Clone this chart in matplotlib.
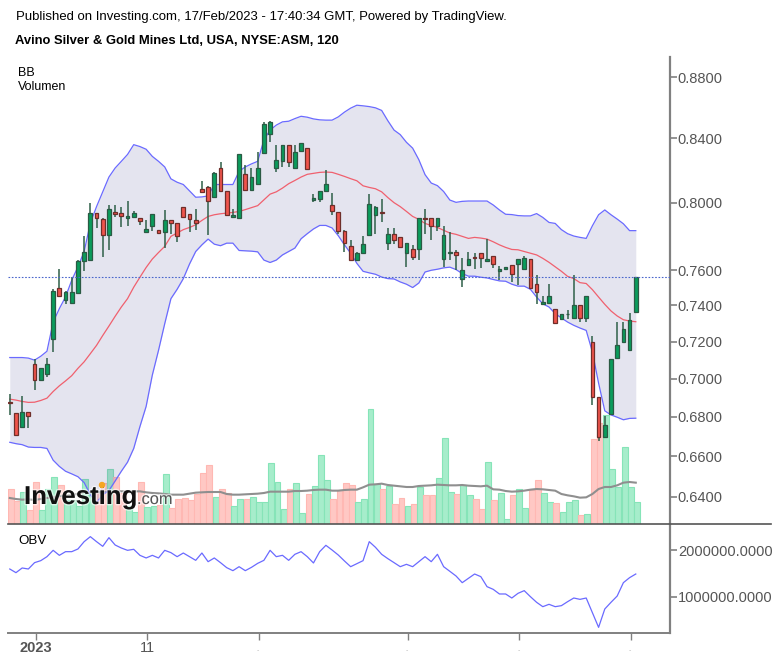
"""
plot.py - Avino Silver & Gold 120 min chart with BB, volume and OBV panes
"""
import matplotlib
matplotlib.use("Agg")
import matplotlib.pyplot as plt
import matplotlib.patheffects as pe
from matplotlib.patches import Ellipse
from matplotlib.ticker import FixedLocator, NullLocator
import numpy as np

plt.rcParams["font.family"] = ["Liberation Sans", "DejaVu Sans"]

opens = [
    .6878, .6819, .6750, .6826, .7076, .6993, .7025, .7213, .7501, .7429,
    .7413, .7471, .7651, .7659, .7939, .7901, .7806, .7945, .7937, .7905,
    .7911, .7905, .7822, .7857, .7834, .7822, .7893, .7877, .7974, .7931,
    .7893, .8083, .8097, .8033, .8213, .8072, .7911, .7907, .8174, .8076,
    .8114, .8307, .8430, .8216, .8255, .8360, .8216, .8319, .8338, .8014,
    .8025, .8069, .7988, .7945, .7832, .7743, .7659, .7703, .7808, .7927,
    .7945, .7756, .7812, .7796, .7703, .7723, .7725, .7907, .7907, .7857,
    .7667, .7699, .7707, .7552, .7630, .7677, .7699, .7651, .7683, .7598,
    .7608, .7632, .7638, .7608, .7663, .7524, .7406, .7413, .7382, .7324,
    .7350, .7331, .7404, .7331, .7200, .6903, .6699, .6816, .7111, .7200,
    .7152, .7363,
]
closes = [
    .6874, .6708, .6826, .6803, .6993, .7055, .7076, .7480, .7455, .7474,
    .7474, .7655, .7707, .7937, .7905, .7806, .7960, .7933, .7917, .7917,
    .7939, .7887, .7842, .7931, .7820, .7893, .7875, .7800, .7913, .7903,
    .7879, .8066, .8008, .8184, .8072, .7925, .7925, .8298, .8079, .8157,
    .8213, .8489, .8504, .8261, .8360, .8249, .8313, .8369, .8210, .8027,
    .8074, .8114, .7949, .7830, .7758, .7659, .7701, .7752, .7990, .7974,
    .7935, .7812, .7776, .7733, .7760, .7679, .7907, .7903, .7857, .7907,
    .7804, .7707, .7689, .7600, .7663, .7673, .7673, .7663, .7638, .7606,
    .7620, .7579, .7663, .7669, .7499, .7478, .7419, .7453, .7302, .7354,
    .7354, .7404, .7331, .7453, .6901, .6699, .6756, .7103, .7182, .7270,
    .7320, .7562,
]
highs = [
    .6920, .6819, .6906, .6826, .7106, .7055, .7108, .7495, .7610, .7480,
    .7560, .7660, .7798, .7996, .7939, .7909, .7984, .7984, .7976, .8012,
    .7947, .7905, .7893, .7931, .7834, .7953, .7893, .7877, .7974, .7931,
    .7963, .8130, .8103, .8186, .8253, .8072, .7963, .8298, .8232, .8213,
    .8312, .8506, .8510, .8358, .8360, .8360, .8360, .8369, .8338, .8052,
    .8074, .8199, .8058, .7945, .7838, .7774, .7705, .7798, .8050, .7980,
    .8021, .7848, .7848, .7796, .7760, .7747, .7907, .7963, .7907, .7907,
    .7857, .7826, .7717, .7669, .7709, .7699, .7699, .7782, .7683, .7626,
    .7620, .7632, .7663, .7685, .7663, .7571, .7453, .7524, .7382, .7354,
    .7372, .7572, .7404, .7453, .7230, .6903, .6805, .7103, .7307, .7307,
    .7359, .7562,
]
lows = [
    .6810, .6708, .6750, .6745, .6941, .6993, .7007, .7145, .7450, .7410,
    .7413, .7471, .7596, .7659, .7846, .7679, .7719, .7911, .7852, .7861,
    .7911, .7865, .7822, .7827, .7812, .7727, .7814, .7762, .7913, .7822,
    .7838, .8066, .7808, .8033, .8072, .7925, .7911, .7907, .8079, .8076,
    .8114, .8307, .8380, .8187, .8218, .8218, .8216, .8319, .8198, .8006,
    .8006, .8069, .7925, .7814, .7709, .7651, .7659, .7695, .7808, .7814,
    .7885, .7717, .7754, .7733, .7620, .7657, .7659, .7814, .7774, .7828,
    .7618, .7659, .7600, .7505, .7626, .7606, .7614, .7651, .7614, .7543,
    .7608, .7533, .7513, .7608, .7499, .7410, .7406, .7413, .7302, .7324,
    .7326, .7331, .7307, .7307, .6863, .6674, .6699, .6816, .7111, .7200,
    .7152, .7363,
]
bb_upper = [
    .7113, .7113, .7113, .7110, .7099, .7120, .7147, .7307, .7382, .7448,
    .7543, .7620, .7709, .7877, .7976, .8066, .8157, .8213, .8255, .8298,
    .8360, .8348, .8331, .8286, .8255, .8220, .8146, .8125, .8111, .8072,
    .8033, .8035, .8041, .8111, .8111, .8111, .8111, .8193, .8220, .8239,
    .8255, .8390, .8453, .8485, .8506, .8510, .8527, .8542, .8536, .8525,
    .8519, .8517, .8517, .8538, .8569, .8595, .8614, .8610, .8605, .8597,
    .8580, .8513, .8453, .8424, .8375, .8338, .8265, .8172, .8120, .8104,
    .8068, .8016, .8002, .8008, .8010, .8010, .8010, .8010, .7986, .7956,
    .7930, .7928, .7922, .7920, .7920, .7934, .7911, .7881, .7875, .7838,
    .7814, .7800, .7792, .7786, .7861, .7927, .7956, .7927, .7901, .7873,
    .7832, .7832,
]
bb_mid = [
    .6892, .6887, .6880, .6875, .6876, .6885, .6897, .6932, .6962, .6988,
    .7016, .7055, .7090, .7134, .7179, .7233, .7285, .7339, .7391, .7438,
    .7503, .7560, .7616, .7665, .7703, .7739, .7798, .7818, .7838, .7851,
    .7867, .7893, .7917, .7927, .7933, .7937, .7941, .7947, .7958, .7970,
    .7982, .8017, .8052, .8066, .8089, .8116, .8136, .8157, .8174, .8180,
    .8186, .8188, .8186, .8174, .8161, .8147, .8134, .8103, .8093, .8085,
    .8066, .8031, .8000, .7976, .7947, .7917, .7899, .7875, .7863, .7851,
    .7834, .7818, .7810, .7798, .7786, .7792, .7788, .7782, .7766, .7748,
    .7733, .7721, .7719, .7709, .7699, .7689, .7669, .7646, .7620, .7594,
    .7565, .7552, .7529, .7524, .7489, .7447, .7406, .7369, .7341, .7320,
    .7313, .7309,
]
bb_lower = [
    .6670, .6663, .6658, .6646, .6644, .6644, .6639, .6580, .6549, .6525,
    .6512, .6498, .6469, .6410, .6371, .6410, .6430, .6477, .6525, .6570,
    .6639, .6750, .6854, .7019, .7152, .7298, .7438, .7491, .7552, .7636,
    .7709, .7748, .7782, .7752, .7743, .7758, .7758, .7715, .7713, .7711,
    .7707, .7659, .7645, .7659, .7689, .7709, .7729, .7784, .7814, .7842,
    .7863, .7863, .7848, .7802, .7748, .7699, .7640, .7594, .7585, .7577,
    .7561, .7552, .7550, .7533, .7520, .7501, .7527, .7590, .7600, .7606,
    .7614, .7618, .7604, .7581, .7566, .7566, .7560, .7556, .7547, .7539,
    .7537, .7520, .7509, .7509, .7491, .7447, .7409, .7391, .7354, .7330,
    .7307, .7289, .7274, .7261, .7143, .6976, .6831, .6810, .6798, .6785,
    .6792, .6793,
]
volume = [
    105, 68, 97, 41, 127, 41, 105, 141, 116, 73,
    73, 55, 135, 93, 93, 123, 165, 141, 93, 53,
    37, 127, 51, 55, 57, 150, 48, 75, 79, 71,
    90, 153, 176, 81, 105, 93, 55, 75, 75, 81,
    67, 66, 183, 127, 45, 105, 123, 33, 90, 115,
    206, 131, 75, 101, 124, 116, 67, 75, 345, 121,
    105, 115, 61, 78, 55, 61, 112, 86, 86, 138,
    258, 97, 90, 116, 86, 75, 46, 187, 72, 93,
    16, 86, 105, 48, 101, 131, 93, 67, 63, 37,
    67, 71, 27, 31, 256, 303, 326, 165, 112, 232,
    112, 67,
]
volume_ma = [
    78, 75, 73, 74, 72, 75, 78, 80, 84, 84,
    88, 90, 96, 96, 96, 95, 97, 98, 98, 98,
    98, 98, 95, 93, 92, 90, 88, 88, 88, 91,
    94, 95, 96, 96, 96, 90, 88, 88, 89, 90,
    91, 93, 97, 97, 97, 97, 99, 99, 100, 102,
    103, 103, 100, 100, 102, 103, 103, 110, 118, 119,
    121, 117, 115, 113, 111, 111, 114, 115, 116, 118,
    117, 116, 116, 117, 115, 114, 113, 115, 104, 103,
    99, 97, 98, 100, 103, 105, 104, 102, 100, 90,
    86, 83, 79, 80, 90, 105, 111, 111, 116, 124,
    126, 124,
]
# OBV in thousands
obv = [
    1597, 1518, 1619, 1597, 1734, 1777, 1863, 2000, 1892, 1971,
    1971, 2029, 2187, 2295, 2187, 2086, 2273, 2115, 2050, 2000,
    2022, 1892, 1835, 1892, 1835, 2000, 1950, 1863, 1942, 1863,
    1784, 1942, 1755, 1835, 1734, 1626, 1561, 1647, 1561, 1633,
    1719, 1784, 2000, 1863, 1892, 1784, 1914, 1971, 1863, 1727,
    1971, 2108, 2007, 1899, 1770, 1647, 1712, 1777, 2187, 2065,
    1914, 1820, 1734, 1647, 1698, 1647, 1755, 1863, 1755, 1914,
    1647, 1547, 1446, 1302, 1396, 1489, 1432, 1216, 1158, 1058,
    1058, 971, 1072, 1130, 1000, 878, 784, 835, 784, 806,
    892, 971, 942, 971, 655, 338, 734, 878, 1014, 1302,
    1410, 1489,
]
price_ticks = [0.64, 0.66, 0.68, 0.70, 0.72, 0.74, 0.76, 0.80, 0.84, 0.88]
obv_ticks = [1000000, 2000000]
date_ticks = [4, 22, 40, 64, 82, 100]
date_labels = ["2023", "11", "", "", "", ""]

GREY = "#555555"
AXIS = "#808080"
W, H = 776, 662

opens, closes, highs, lows = map(np.array, (opens, closes, highs, lows))
x = np.arange(len(opens))
# candles sit a little left of the volume bars in the original
xc = x - 0.2
up = closes >= opens


def pane(top, bottom, **kw):
    return plt.gcf().add_axes([8 / W, 1 - bottom / H, 661.5 / W, (bottom - top) / H], **kw)


fig = plt.figure(figsize=(W / 100, H / 100), dpi=100)
ax_vol = pane(57, 524)
ax = pane(57, 524, sharex=ax_vol)
ax_obv = pane(524, 633, sharex=ax_vol)
ax.set_zorder(ax_vol.get_zorder() + 1)
ax.patch.set_visible(False)

# volume
ax_vol.bar(x, volume, width=0.96, color=np.where(up, "#a6edcb", "#ffc8c4"),
           edgecolor=np.where(up, "#86e4b8", "#ffb8b3"), linewidth=0.8)
ax_vol.plot(xc, volume_ma, color="#8f8f8f", lw=1.5)
ax_vol.set_ylim(0, 1401)

# bollinger bands
ax.fill_between(xc, bb_lower, bb_upper, color="#4a4a9a", alpha=0.15, lw=0)
ax.plot(xc, bb_upper, color="#6a6aff", lw=0.9)
ax.plot(xc, bb_lower, color="#6a6aff", lw=0.9)
ax.plot(xc, bb_mid, color="#f0606e", lw=0.9)

# candles
ax.vlines(xc, lows, highs, color="#2e5f48", lw=1.1, zorder=3)
ax.bar(xc, np.abs(closes - opens), bottom=np.minimum(opens, closes), width=0.6,
       color=np.where(up, "#0a9c5c", "#f0544c"),
       edgecolor=np.where(up, "#2b5a44", "#6e2e2a"), linewidth=0.9, zorder=4)
ax.axhline(closes[-1], color="#4a66cc", lw=0.8, ls=(0, (1.5, 1.5)), zorder=5)

ax.set_yscale("log")
ax.set_ylim(0.6269, 0.8935)
ax.set_xlim(-0.484, 106.24)
ax.yaxis.tick_right()
ax.yaxis.set_major_locator(FixedLocator(price_ticks))
ax.yaxis.set_minor_locator(NullLocator())
ax.set_yticklabels([f"{t:.4f}" for t in price_ticks])

# on balance volume
ax_obv.plot(xc, np.array(obv) * 1000, color="#6a6aff", lw=0.9)
ax_obv.set_ylim(216000, 2568000)
ax_obv.yaxis.tick_right()
ax_obv.set_yticks(obv_ticks)
ax_obv.set_yticklabels([f"{t:.4f}" for t in obv_ticks])
ax_obv.set_xticks(date_ticks)
ax_obv.set_xticklabels(date_labels)

for a in (ax_vol, ax, ax_obv):
    for side in ("left", "top", "bottom", "right"):
        a.spines[side].set_visible(False)
ax_vol.tick_params(left=False, bottom=False, labelleft=False, labelbottom=False)
ax.tick_params(bottom=False, labelbottom=False)
for a in (ax, ax_obv):
    a.spines["right"].set_visible(True)
    a.spines["right"].set_color(AXIS)
    a.spines["right"].set_linewidth(1.6)
    a.tick_params(axis="y", length=5, width=1.2, color=AXIS, labelsize=10.5,
                  labelcolor=GREY, pad=1)
ax_obv.spines["bottom"].set_visible(True)
ax_obv.spines["bottom"].set_color(AXIS)
ax_obv.spines["bottom"].set_linewidth(1.4)
ax_obv.tick_params(axis="x", length=5, width=1, color=AXIS, labelsize=10.5,
                   labelcolor=GREY, pad=1)
for lab, txt in zip(ax_obv.get_xticklabels(), date_labels):
    lab.set_fontweight("bold" if txt == "2023" else "normal")

# pane separator runs past the price scale
fig.add_artist(plt.Line2D([8 / W, 771 / W], [1 - 524 / H] * 2, color="#555555", lw=1.2))

# masked date labels leave only a speck in the original
for px in (258, 407, 519, 630):
    fig.text(px / W, 1 - 651 / H, "-", fontsize=5, color="#bbbbbb", ha="center", va="center")


def label(px, py, s, **kw):
    return fig.text(px / W, 1 - py / H, s, va="center", color="black", **kw)


label(16, 17, "Published on Investing.com, 17/Feb/2023 - 17:40:34 GMT, Powered by TradingView.",
      fontsize=9.42)
label(15, 41, "Avino Silver & Gold Mines Ltd, USA, NYSE:ASM, 120", fontsize=9.4, fontweight="bold")
label(18, 73, "BB", fontsize=9)
label(18, 87, "Volumen", fontsize=9)
label(18, 541, "OBV", fontsize=9.6)

# watermark
glow = [pe.withStroke(linewidth=2, foreground="white", alpha=0.6)]
fig.text(24 / W, 1 - 504 / H, "Investing", fontsize=18.6, fontweight="bold", color="#111111",
         va="baseline", zorder=10, path_effects=glow)
fig.text(137 / W, 1 - 504 / H, ".com", fontsize=11.8, color=GREY, va="baseline", zorder=10,
         path_effects=glow)
fig.add_artist(Ellipse((102 / W, 1 - 485 / H), 5 / W, 5 / H, color="#f5a623", zorder=11,
                       transform=fig.transFigure))

fig.savefig("out.png", dpi=100)
